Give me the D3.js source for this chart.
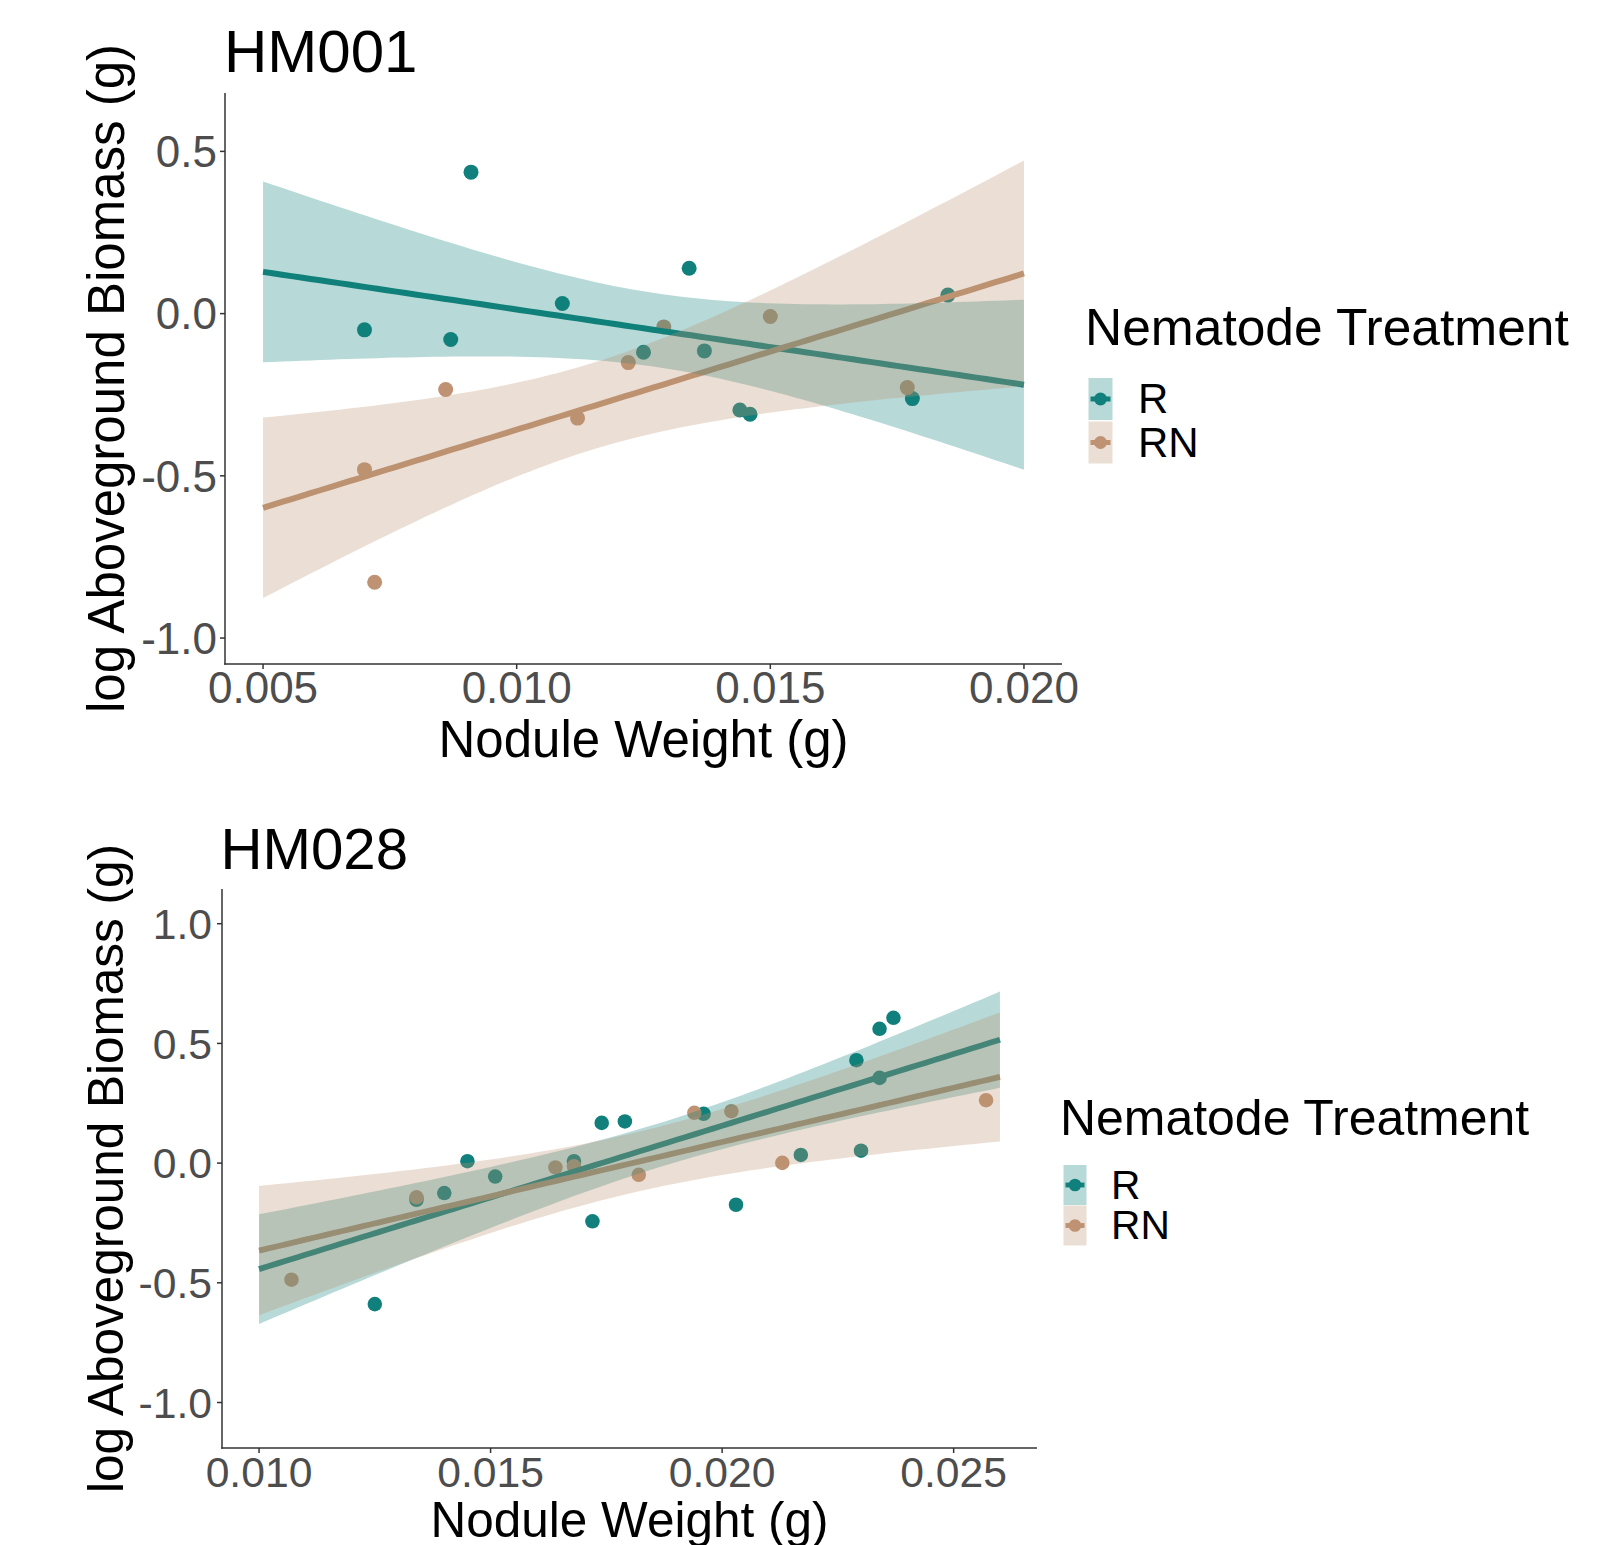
<!DOCTYPE html>
<html>
<head>
<meta charset="utf-8">
<script src="https://cdn.jsdelivr.net/npm/d3@7"></script>
<style>
  body { margin: 0; background: #fff; }
  svg { display: block; font-family: "Liberation Sans", Arial, sans-serif; }
</style>
</head>
<body>
<svg id="chart" width="1604" height="1545"></svg>
<script>
// HM001: nodule weight (g) vs log aboveground biomass (g)
const hm001RX = [0.0070, 0.0091, 0.0087, 0.0109, 0.0134, 0.0125, 0.0137, 0.0144, 0.0146, 0.0178, 0.0185];
const hm001RY = [-0.050, 0.436, -0.080, 0.031, 0.140, -0.119, -0.115, -0.297, -0.310, -0.262, 0.057];
const hm001RNX = [0.0070, 0.0072, 0.0086, 0.0112, 0.0122, 0.0129, 0.0150, 0.0177];
const hm001RNY = [-0.481, -0.828, -0.234, -0.322, -0.151, -0.041, -0.009, -0.228];

// HM028
const hm028RX = [0.0125, 0.0134, 0.0140, 0.0145, 0.0151, 0.0168, 0.0172, 0.0174, 0.0179,
  0.0196, 0.0203, 0.0217, 0.0229, 0.0230, 0.0234, 0.0237, 0.0234];
const hm028RY = [-0.589, -0.153, -0.125, 0.008, -0.056, 0.008, -0.243, 0.168, 0.174,
  0.206, -0.174, 0.034, 0.430, 0.052, 0.561, 0.607, 0.356];
const hm028RNX = [0.0107, 0.0134, 0.0164, 0.0168, 0.0182, 0.0194, 0.0202, 0.0213, 0.0257];
const hm028RNY = [-0.487, -0.143, -0.018, -0.013, -0.049, 0.210, 0.217, 0.001, 0.263];

const groups = ["R", "RN"];
const legendTitle = "Nematode Treatment";

// smoother span (fullrange) and band widths (t multipliers) as seen in the picture
const hm001Range = [0.005, 0.020];
const hm028Range = [0.010, 0.026];
const hm001BandT = [1.78, 1.81];
const hm028BandT = [1.89, 3.1];

const hm001XTicks = [0.005, 0.010, 0.015, 0.020];
const hm001YTicks = [-1.0, -0.5, 0.0, 0.5];
const hm028XTicks = [0.010, 0.015, 0.020, 0.025];
const hm028YTicks = [-1.0, -0.5, 0.0, 0.5, 1.0];

const colors = { R: "#11807c", RN: "#be9272" };

const panels = [
  {
    title: "HM001",
    series: [[hm001RX, hm001RY], [hm001RNX, hm001RNY]],
    range: hm001Range, bandT: hm001BandT,
    xTicks: hm001XTicks, yTicks: hm001YTicks,
    xDomain: [0.00425, 0.02075], yDomain: [-1.08, 0.68],
    left: 225, right: 1062, top: 93, bottom: 664,
    k: 1,
    titleX: 224, titleY: 72,
    yTitleX: 124, xTitleY: 757, xTickY: 703, yTickX: 217,
    legX: 1088.5, legTitleY: 345, legKeyY: 378, keyW: 24, keyH: 42, keyStep: 43.5, legLabelX: 1138
  },
  {
    title: "HM028",
    series: [[hm028RX, hm028RY], [hm028RNX, hm028RNY]],
    range: hm028Range, bandT: hm028BandT,
    xTicks: hm028XTicks, yTicks: hm028YTicks,
    xDomain: [0.0092, 0.0268], yDomain: [-1.19, 1.145],
    left: 222, right: 1037, top: 889, bottom: 1448,
    k: 0.97,
    titleX: 220.5, titleY: 869,
    yTitleX: 123, xTitleY: 1537, xTickY: 1486.5, yTickX: 212,
    legX: 1063.5, legTitleY: 1135, legKeyY: 1165, keyW: 23, keyH: 40, keyStep: 40.5, legLabelX: 1111
  }
];

function fitLm(xs, ys) {
  const n = xs.length;
  const mx = d3.mean(xs), my = d3.mean(ys);
  let sxx = 0, sxy = 0;
  xs.forEach((x, i) => {
    sxx += (x - mx) ** 2;
    sxy += (x - mx) * (ys[i] - my);
  });
  const b = sxy / sxx;
  const a = my - b * mx;
  const sse = d3.sum(xs, (x, i) => (ys[i] - a - b * x) ** 2);
  const s = Math.sqrt(sse / (n - 2));
  return { a, b, s, n, mx, sxx };
}

const svg = d3.select("#chart");

panels.forEach((p) => {
  const g = svg.append("g");
  const x = d3.scaleLinear().domain(p.xDomain).range([p.left, p.right]);
  const y = d3.scaleLinear().domain(p.yDomain).range([p.bottom, p.top]);

  const fits = p.series.map(([xs, ys], i) => {
    const f = fitLm(xs, ys);
    const grid = d3.range(81).map((j) => p.range[0] + (p.range[1] - p.range[0]) * j / 80);
    return grid.map((xv) => {
      const fitY = f.a + f.b * xv;
      const se = f.s * Math.sqrt(1 / f.n + (xv - f.mx) ** 2 / f.sxx);
      return { x: xv, y: fitY, lo: fitY - p.bandT[i] * se, hi: fitY + p.bandT[i] * se };
    });
  });

  const plot = g.append("g");

  // points
  p.series.forEach(([xs, ys], i) => {
    plot.append("g")
      .selectAll("circle")
      .data(xs.map((xv, j) => [xv, ys[j]]))
      .enter()
      .append("circle")
      .attr("cx", (d) => x(d[0]))
      .attr("cy", (d) => y(d[1]))
      .attr("r", 7.5 * p.k)
      .attr("fill", colors[groups[i]]);
  });

  // fitted lines
  const line = d3.line().x((d) => x(d.x)).y((d) => y(d.y));
  fits.forEach((f, i) => {
    plot.append("path")
      .attr("d", line(f))
      .attr("fill", "none")
      .attr("stroke", colors[groups[i]])
      .attr("stroke-width", 6 * p.k);
  });

  // confidence bands
  const area = d3.area().x((d) => x(d.x)).y0((d) => y(d.lo)).y1((d) => y(d.hi));
  fits.forEach((f, i) => {
    plot.append("path")
      .attr("d", area(f))
      .attr("fill", colors[groups[i]])
      .attr("fill-opacity", 0.3);
  });

  // axes
  const axisColor = "#333333";
  const tickLen = 5;
  g.append("line")
    .attr("x1", p.left).attr("x2", p.left)
    .attr("y1", p.top).attr("y2", p.bottom + 0.75)
    .attr("stroke", axisColor).attr("stroke-width", 1.5);
  g.append("line")
    .attr("x1", p.left - 0.75).attr("x2", p.right)
    .attr("y1", p.bottom).attr("y2", p.bottom)
    .attr("stroke", axisColor).attr("stroke-width", 1.5);

  p.xTicks.forEach((t) => {
    g.append("line")
      .attr("x1", x(t)).attr("x2", x(t))
      .attr("y1", p.bottom).attr("y2", p.bottom + tickLen)
      .attr("stroke", axisColor).attr("stroke-width", 1.5);
    g.append("text")
      .attr("x", x(t)).attr("y", p.xTickY)
      .attr("text-anchor", "middle")
      .attr("font-size", 44 * p.k)
      .attr("fill", "#4d4d4d")
      .text(t.toFixed(3));
  });

  p.yTicks.forEach((t) => {
    g.append("line")
      .attr("x1", p.left - tickLen).attr("x2", p.left)
      .attr("y1", y(t)).attr("y2", y(t))
      .attr("stroke", axisColor).attr("stroke-width", 1.5);
    g.append("text")
      .attr("x", p.yTickX).attr("y", y(t))
      .attr("dy", "0.36em")
      .attr("text-anchor", "end")
      .attr("font-size", 44 * p.k)
      .attr("fill", "#4d4d4d")
      .text(t.toFixed(1));
  });

  // titles
  g.append("text")
    .attr("x", p.titleX).attr("y", p.titleY)
    .attr("font-size", 60 * p.k)
    .attr("fill", "#000")
    .text(p.title);

  g.append("text")
    .attr("x", (p.left + p.right) / 2).attr("y", p.xTitleY)
    .attr("text-anchor", "middle")
    .attr("font-size", 51 * p.k)
    .attr("fill", "#000")
    .text("Nodule Weight (g)");

  g.append("text")
    .attr("transform", `translate(${p.yTitleX},${(p.top + p.bottom) / 2}) rotate(-90)`)
    .attr("text-anchor", "middle")
    .attr("font-size", 51 * p.k)
    .attr("fill", "#000")
    .text("log Aboveground Biomass (g)");

  // legend
  const leg = g.append("g");
  leg.append("text")
    .attr("x", p.legX - 3.5).attr("y", p.legTitleY)
    .attr("font-size", 51.5 * p.k)
    .attr("fill", "#000")
    .text(legendTitle);

  groups.forEach((grp, i) => {
    const ky = p.legKeyY + i * p.keyStep;
    const cy = ky + p.keyH / 2;
    leg.append("rect")
      .attr("x", p.legX).attr("y", ky)
      .attr("width", p.keyW).attr("height", p.keyH)
      .attr("fill", colors[grp]).attr("fill-opacity", 0.3);
    leg.append("line")
      .attr("x1", p.legX + 2).attr("x2", p.legX + p.keyW - 2)
      .attr("y1", cy).attr("y2", cy)
      .attr("stroke", colors[grp]).attr("stroke-width", 5 * p.k);
    leg.append("circle")
      .attr("cx", p.legX + p.keyW / 2).attr("cy", cy)
      .attr("r", 6.5 * p.k)
      .attr("fill", colors[grp]);
    leg.append("text")
      .attr("x", p.legLabelX).attr("y", cy)
      .attr("dy", "0.34em")
      .attr("font-size", 42 * p.k)
      .attr("fill", "#000")
      .text(grp);
  });
});
</script>
</body>
</html>
